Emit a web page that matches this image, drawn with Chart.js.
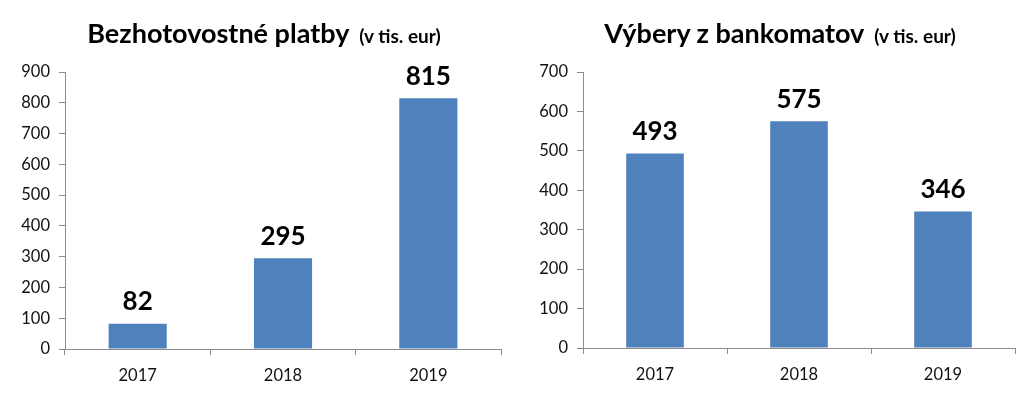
<!DOCTYPE html>
<html>
<head>
<meta charset="utf-8">
<script src="https://cdn.jsdelivr.net/npm/chart.js@4"></script>
<style>
	body { margin: 0; background: #fff; }
	#wrap { position: relative; width: 1024px; height: 396px; overflow: hidden; font-family: Lato, "Open Sans", sans-serif; }
	canvas { position: absolute; top: 0; }
	.title { position: absolute; top: 15px; line-height: 36px; white-space: nowrap; font-weight: bold; font-size: 27px; color: #000; transform: translateX(-50%); }
	.title small { font-size: 19px; font-weight: bold; margin-left: 4px; }
</style>
</head>
<body>
<div id="wrap">
	<canvas id="chartPlatby" width="512" height="396" style="left:0"></canvas>
	<canvas id="chartVybery" width="512" height="396" style="left:512px"></canvas>
	<div class="title" style="left:264px">Bezhotovostné platby <small>(v tis. eur)</small></div>
	<div class="title" style="left:780px">Výbery z bankomatov <small>(v tis. eur)</small></div>
</div>
<script>
const years = ["2017", "2018", "2019"];
const platby = [82, 295, 815];
const vybery = [493, 575, 346];
const platbyMax = 900;
const vyberyMax = 700;

const barLabels = {
	id: 'barLabels',
	afterDatasetsDraw(chart) {
		const ctx = chart.ctx;
		const meta = chart.getDatasetMeta(0);
		ctx.save();
		ctx.font = 'bold 26px Lato, "Open Sans", sans-serif';
		ctx.fillStyle = '#000';
		ctx.textAlign = 'center';
		ctx.textBaseline = 'middle';
		meta.data.forEach((bar, i) => {
			ctx.fillText(chart.data.datasets[0].data[i], bar.x, bar.y - 22);
		});
		ctx.restore();
	}
};

function makeChart(id, values, max, yWidth, xHeight, padRight){
	const ctx = document.getElementById(id).getContext("2d");
	return new Chart(ctx, {
		type: 'bar',
		data: {
			labels: years,
			datasets: [{
				data: values,
				backgroundColor: '#4F81BD',
				categoryPercentage: 0.4,
				barPercentage: 1,
			}],
		},
		options: {
			responsive: false,
			animation: false,
			layout: { padding: { top: 72, right: padRight, left: 0, bottom: 0 } },
			plugins: { legend: { display: false }, tooltip: { enabled: false } },
			scales: {
				x: {
					grid: { offset: true, drawOnChartArea: false, color: '#8c8c8c', tickLength: 6 },
					border: { color: '#8c8c8c' },
					ticks: { color: '#111', padding: 11, font: { family: 'Lato', size: 16.5 } },
					afterFit: (scale) => { scale.height = xHeight; },
				},
				y: {
					min: 0,
					max: max,
					ticks: { stepSize: 100, color: '#111', padding: 9, font: { family: 'Lato', size: 16.5 } },
					grid: { drawOnChartArea: false, color: '#8c8c8c', tickLength: 6 },
					border: { color: '#8c8c8c' },
					afterFit: (scale) => { scale.width = yWidth; },
				},
			},
		},
		plugins: [barLabels],
	});
}

makeChart("chartPlatby", platby, platbyMax, 65, 47, 11);
makeChart("chartVybery", vybery, vyberyMax, 71, 48, 9);
</script>
</body>
</html>
